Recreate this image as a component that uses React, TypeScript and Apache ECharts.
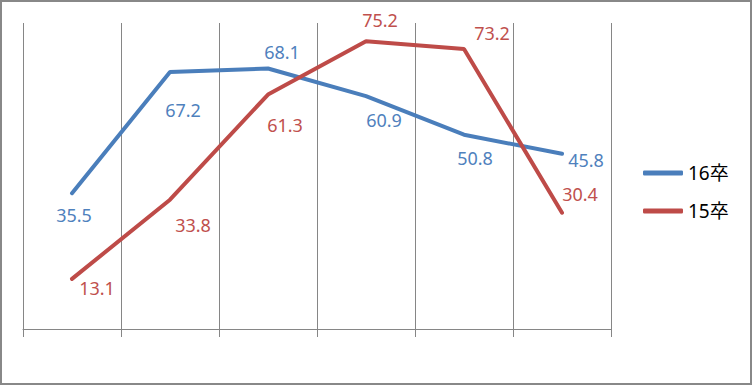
import React, { useEffect, useRef } from "react";
import * as echarts from "echarts";

const categories = ["1", "2", "3", "4", "5", "6"];
const seriesNames = ["16卒", "15卒"];
const values16 = [35.5, 67.2, 68.1, 60.9, 50.8, 45.8];
const values15 = [13.1, 33.8, 61.3, 75.2, 73.2, 30.4];

// label offsets (label centre relative to point), layout only
const offsets16 = [[2, 22], [13, 38], [14, -17], [18, 24], [11, 23], [24, 6]];
const offsets15 = [[25, 9], [23, 25], [17, 30], [14, -21], [28, -16], [18, -19]];

const BLUE_LINE = "#4A7EBB";
const RED_LINE = "#BE4B48";
const BLUE_TEXT = "#4F81BD";
const RED_TEXT = "#C0504D";
const FONT = "'Noto Sans', 'Noto Sans CJK JP', sans-serif";

function buildData(vals: number[], offs: number[][], color: string) {
  return vals.map((v, i) => ({
    value: v,
    label: {
      show: true,
      position: "inside",
      offset: offs[i],
      color,
      fontSize: 18,
      fontFamily: FONT,
    },
  }));
}

export default function App() {
  const ref = useRef<HTMLDivElement>(null);
  useEffect(() => {
    document.body.style.margin = "0";
    const chart = echarts.init(ref.current!, null, { renderer: "svg" });
    const legendCommon = {
      orient: "vertical",
      left: 643,
      padding: 0,
      itemWidth: 40,
      itemHeight: 5,
      itemGap: 5,
      icon: "roundRect",
      textStyle: { color: "#000", fontSize: 19, fontFamily: FONT, lineHeight: 20 },
      selectedMode: false,
    };
    chart.setOption({
      animation: false,
      backgroundColor: "#fff",
      grid: { left: 23, right: 141, top: 23, bottom: 56 },
      legend: [
        { ...legendCommon, top: 163, data: [seriesNames[0]] },
        { ...legendCommon, top: 201, data: [seriesNames[1]] },
      ],
      xAxis: {
        type: "category",
        data: categories,
        boundaryGap: true,
        axisLine: { show: true, lineStyle: { color: "#868686", width: 1 } },
        axisTick: { show: true, length: 8, lineStyle: { color: "#868686" } },
        axisLabel: { show: false },
        splitLine: { show: true, lineStyle: { color: "#868686", width: 1 } },
      },
      yAxis: {
        type: "value",
        min: 0,
        max: 80,
        show: false,
        splitLine: { show: false },
      },
      graphic: [
        {
          type: "rect",
          shape: { x: 1, y: 1, width: 750, height: 383 },
          style: { fill: "none", stroke: "#888", lineWidth: 2 },
          silent: true,
        },
      ],
      series: [
        {
          name: seriesNames[0],
          type: "line",
          data: buildData(values16, offsets16, BLUE_TEXT),
          symbol: "circle",
          symbolSize: 2,
          itemStyle: { color: BLUE_LINE },
          lineStyle: { color: BLUE_LINE, width: 4, cap: "round" },
          emphasis: { disabled: true },
        },
        {
          name: seriesNames[1],
          type: "line",
          data: buildData(values15, offsets15, RED_TEXT),
          symbol: "circle",
          symbolSize: 2,
          itemStyle: { color: RED_LINE },
          lineStyle: { color: RED_LINE, width: 4, cap: "round" },
          emphasis: { disabled: true },
        },
      ],
    });
    return () => chart.dispose();
  }, []);
  return (
    <div
      ref={ref}
      style={{ position: "absolute", left: 0, top: 0, width: 752, height: 385 }}
    />
  );
}
